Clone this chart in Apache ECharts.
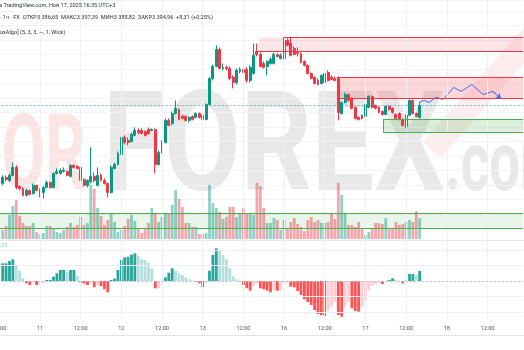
<!DOCTYPE html>
<html><head><meta charset="utf-8">
<script src="https://cdn.jsdelivr.net/npm/echarts@6/dist/echarts.min.js"></script>
<style>html,body{margin:0;padding:0;background:#fff}#c{width:524px;height:350px}</style>
</head><body><div id="c"></div>
<script>
// ---------- DATA ----------
const days = ['10','11','12','13','16','17','18'];      // day labels as shown on the time axis
const firstHour = 12;                                    // first category: day 10, 12:00
const categoryCount = 155;                               // hourly slots across the canvas

// hourly candles [open, close, low, high], first = 10th 13:00, last = 17th 16:00
const candles = [
[3341.1,3345.3,3339.8,3346.7],[3345.3,3343.9,3342.5,3346.7],[3343.2,3346.7,3341.8,3348.0],[3346.7,3352.2,3346.0,3355.6],
[3352.2,3338.4,3337.0,3353.6],[3339.1,3337.7,3336.3,3339.8],[3337.7,3332.9,3332.2,3338.4],[3332.9,3336.3,3332.2,3337.7],
[3336.3,3333.5,3332.9,3337.0],[3334.2,3339.8,3333.5,3341.1],[3339.8,3336.3,3335.6,3340.4],[3334.9,3336.3,3331.5,3337.7],
[3334.9,3338.4,3330.8,3339.1],[3338.4,3341.8,3337.7,3343.2],[3341.8,3338.4,3337.7,3342.5],[3338.4,3348.0,3337.7,3348.7],
[3348.0,3349.4,3347.3,3351.5],[3348.0,3350.1,3347.3,3351.5],[3349.4,3350.1,3348.7,3352.2],[3349.4,3346.7,3346.0,3350.1],
[3346.0,3353.6,3345.3,3354.2],[3353.6,3352.2,3351.5,3354.2],[3352.9,3351.5,3350.8,3353.6],[3352.2,3343.2,3342.5,3352.9],
[3343.9,3339.8,3339.1,3344.6],[3339.8,3343.2,3338.4,3343.9],[3342.5,3346.0,3341.1,3366.0],[3346.0,3343.2,3341.8,3348.7],
[3339.8,3346.7,3339.1,3352.2],[3346.7,3343.2,3342.5,3348.0],[3343.2,3341.1,3340.4,3344.6],[3341.1,3334.9,3331.5,3341.8],
[3334.9,3352.2,3334.2,3353.6],[3351.5,3354.2,3350.8,3355.6],[3354.2,3361.8,3353.6,3363.2],[3361.1,3372.9,3360.5,3374.3],
[3372.9,3369.4,3368.0,3374.3],[3370.8,3369.4,3367.4,3372.9],[3370.1,3374.9,3369.4,3376.3],[3374.3,3377.7,3373.6,3379.8],
[3377.7,3376.3,3374.9,3379.1],[3377.7,3375.6,3374.9,3379.1],[3377.0,3374.3,3373.6,3377.7],[3378.4,3375.6,3374.9,3379.8],
[3377.7,3378.4,3377.0,3379.1],[3378.4,3354.2,3348.0,3379.1],[3354.2,3362.5,3353.6,3363.9],[3362.5,3369.4,3361.8,3370.8],
[3369.4,3384.6,3368.7,3386.0],[3384.6,3381.2,3380.5,3386.0],[3382.5,3389.4,3381.2,3390.8],[3389.4,3392.9,3388.7,3398.4],
[3392.2,3385.3,3384.6,3392.9],[3387.4,3386.0,3385.3,3388.7],[3387.4,3384.6,3383.9,3388.1],[3384.6,3386.7,3383.2,3387.4],
[3387.4,3385.3,3384.6,3388.1],[3386.7,3389.4,3386.0,3390.1],[3389.4,3386.7,3386.0,3390.1],[3388.1,3385.3,3383.9,3388.7],
[3385.3,3395.6,3384.6,3396.3],[3395.6,3413.6,3395.0,3414.3],[3413.6,3421.9,3412.2,3423.2],[3421.9,3433.6,3421.2,3436.4],
[3433.6,3420.5,3419.8,3435.0],[3420.5,3421.2,3419.1,3423.9],[3421.2,3420.5,3419.1,3422.6],[3420.5,3413.6,3412.2,3421.9],
[3414.3,3410.8,3406.7,3415.7],[3410.8,3419.1,3409.4,3420.5],[3418.4,3419.8,3417.0,3421.2],[3419.8,3417.7,3416.3,3421.2],
[3419.8,3412.2,3410.8,3421.2],[3412.2,3421.2,3410.8,3422.6],[3417.0,3429.5,3416.3,3437.7],[3432.2,3430.1,3428.8,3437.7],
[3430.1,3421.9,3421.2,3431.5],[3423.9,3421.2,3420.5,3425.3],[3421.9,3425.3,3415.7,3426.0],[3423.9,3426.7,3423.2,3428.1],
[3423.9,3430.1,3423.2,3431.5],[3430.1,3428.8,3428.1,3430.8],[3427.4,3429.5,3426.7,3430.8],[3427.4,3439.8,3426.7,3441.9],
[3439.8,3436.4,3435.7,3441.2],[3437.7,3429.5,3428.8,3441.9],[3434.3,3430.1,3429.5,3435.7],[3431.5,3430.8,3428.8,3435.0],
[3430.8,3424.6,3423.9,3431.5],[3425.3,3422.6,3421.9,3426.0],[3422.6,3417.0,3416.3,3423.2],[3417.0,3413.6,3412.9,3417.7],
[3414.3,3410.1,3409.4,3415.0],[3412.2,3409.4,3408.8,3413.6],[3410.1,3415.7,3409.4,3416.3],[3410.8,3417.0,3410.1,3417.7],
[3417.7,3412.2,3411.5,3419.1],[3414.3,3412.9,3412.2,3415.7],[3413.6,3412.2,3411.5,3415.0],[3413.6,3390.1,3384.6,3415.0],
[3389.4,3397.0,3388.7,3397.7],[3397.0,3402.5,3396.3,3403.9],[3402.5,3398.4,3397.7,3403.2],[3399.8,3392.9,3392.2,3400.5],
[3393.6,3386.0,3385.3,3394.3],[3386.7,3385.3,3384.6,3387.4],[3388.1,3386.0,3385.3,3388.7],[3387.4,3395.6,3386.7,3396.3],
[3393.6,3401.2,3392.9,3401.9],[3401.2,3393.6,3392.9,3401.9],[3395.0,3392.9,3392.2,3395.6],[3393.6,3390.1,3389.4,3394.3],
[3390.8,3388.7,3388.1,3391.5],[3388.7,3394.3,3388.1,3395.0],[3394.3,3392.2,3391.5,3395.0],[3392.9,3390.1,3389.4,3393.6],
[3388.7,3386.0,3385.3,3389.4],[3389.4,3385.3,3384.6,3390.1],[3385.3,3381.2,3380.5,3386.0],[3380.5,3388.1,3379.1,3388.7],
[3388.1,3398.4,3387.4,3399.1],[3398.4,3389.4,3388.7,3399.1],[3389.4,3387.4,3386.7,3390.1],[3386.65,3394.96,3385.82,3397.39]
];

const volumes = [
9,13,24,33,39,23,16,13,13,16, 7,5,6,13,13,11,7,6,9,12, 16,12,14,22,14,16,54,50,31,23,
14,19,26,17,7,9,13,20,24,18, 11,6,11,16,31,26,17,22,26,26, 34,49,40,32,16,16,12,12,5,5,
6,54,36,31,27,20,22,32,32,22, 26,31,26,26,24,56,53,31,16,16, 21,19,9,19,11,17,21,15,12,8,
19,22,17,19,16,16,17,26,20,56, 44,25,14,14,12,17,10,4,7,11, 16,16,15,21,10,11,17,14,15,17,
19,17,28,21
];

const hist = [
17.7,17.7,20,21.7,15,10.3,2.7,-2.3,-4,-1.7, -4,-4,-2.3,1,1,4.3,7.7,11,11,9.3,
11,11,5,-1.7,-2.5,-4,-1.7,-6.3,-4,-5, -8.3,-11.3,1,2.3,11,21,23.7,24.3,26.3,27.7,
25,21.7,21,18.3,12.7,-7.3,-7.3,-0.5,3.7,8.3, 12.7,10.3,7.7,6,3.7,1.7,0.5,-0.7,-2.3,-6.3,
-1.7,10.3,26,32.7,30.3,26,21.7,12.7,4.3,1.7, -0.5,-4,-7.3,-9.7,-5,-2.3,-7.3,-8.3,-9.7,-11.3,
-9,-9.7,-9.7,-3,-1.7,-5.7,-6.3,-10,-14,-18.3, -21,-24,-29,-33,-34,-35,-29.7,-25.7,-20.7,-34,
-35.7,-25.7,-20.7,-27.3,-30,-30.7,-25.7,-19,-9.7,-5, -3,-2.3,-3,-1,1,2.7,1,0.3,-2.3,0.3,
7,7,6,10
];

// projected path (candle-index units, price)
const projX = [122.8,124.3,125.8,127.8,129.9,133.1,135.2,138.4,141.7,144.6,147.0];
const projY = [3397.0,3398.4,3397.0,3400.5,3399.1,3407.4,3404.6,3409.4,3402.5,3404.6,3399.8];

// zones: [startIndex, topPrice, bottomPrice]
const supplyZoneTop = [75.6, 3441.9, 3432.2];
const supplyTopLineFrom = 83.0, supplyBottomLineFrom = 75.0;
const supplyZoneLow = [98.6, 3414.1, 3399.6];
const demandZone = [112.2, 3385.1, 3376.5];
const volumeBand = [-1.5, 3320.6, 3309.9];
const lastPrice = 3394.96;
const histGridLevels = [31, 15.5, -15.5, -31];

// ---------- BUILD ----------
const categories = [];
days.forEach((d, k) => {
  for (let h = 0; h < 24; h++) {
    if (k === 0 && h < firstHour) continue;
    categories.push(d + ' ' + String(h).padStart(2, '0') + ':00');
  }
});
categories.length = categoryCount;
const labelIdx = [];
categories.forEach((c, j) => { if (c.endsWith(' 00:00') || c.endsWith(' 12:00')) labelIdx.push(j); });

const UP = '#089981', DN = '#f23645';
const candleData = candles.map((c, i) => [i + 1, c[0], c[1], c[2], c[3]]);
const volData = volumes.map((v, i) => ({ value: [i + 1, v],
  itemStyle: { color: candles[i][1] >= candles[i][0] ? 'rgba(8,153,129,0.45)' : 'rgba(242,54,69,0.45)' } }));
const histData = hist.map((h, i) => {
  const p = i > 0 ? hist[i - 1] : h;
  let col;
  if (h >= 0) col = h >= p ? '#26a69a' : '#b2dfdb';
  else col = h < p ? '#ff5252' : '#ffcdd2';
  return { value: [i + 1, h], itemStyle: { color: col } };
});
const projData = projX.map((x, k) => [x, projY[k]]);

const END = 153.5, START = -1.5;
const GL = -2.39, GW = 525.45;

function seg(x0, x1, y, color) {
  return [{ xAxis: x0, yAxis: y, lineStyle: { color: color, width: 1, type: 'solid' } }, { xAxis: x1, yAxis: y }];
}
function vseg(x, y0, y1, color) {
  return [{ xAxis: x, yAxis: y0, lineStyle: { color: color, width: 1, type: 'solid' } }, { xAxis: x, yAxis: y1 }];
}
const RED = '#f23645', GRN = '#4caf50';

const vGridMain = labelIdx.map(j => ({ xAxis: j - 1, lineStyle: { color: '#eef0f3', width: 1, type: 'solid' } }));
const vGridOsc = labelIdx.map(j => ({ xAxis: j, lineStyle: { color: '#eef0f3', width: 1, type: 'solid' } }));

const gridBase = { left: GL, width: GW, containLabel: false, outerBoundsMode: 'none' };

const option = {
  animation: false,
  backgroundColor: '#ffffff',
  textStyle: { fontFamily: 'Roboto' },
  grid: [
    Object.assign({}, gridBase, { top: 0, height: 243.04 }),
    Object.assign({}, gridBase, { top: 179, height: 60 }),
    Object.assign({}, gridBase, { top: 242, height: 78 })
  ],
  xAxis: [
    { type: 'category', gridIndex: 0, data: categories, boundaryGap: true, show: false },
    { type: 'value', gridIndex: 0, min: START, max: END, show: false },
    { type: 'category', gridIndex: 1, data: categories, boundaryGap: true, show: false },
    { type: 'category', gridIndex: 2, data: categories, boundaryGap: true,
      axisLine: { show: false }, axisTick: { show: false }, splitLine: { show: false },
      axisLabel: { show: true, hideOverlap: false, interval: (i, v) => v.endsWith(' 00:00') || v.endsWith(' 12:00'),
        formatter: v => v.endsWith(' 00:00') ? v.split(' ')[0] : '12:00',
        fontSize: 5.6, color: '#50535e', margin: 6, fontFamily: 'Roboto' } }
  ],
  yAxis: [
    { type: 'value', gridIndex: 0, min: 3300, max: 3467.7, interval: 10, scale: true,
      axisLine: { show: false }, axisTick: { show: false }, axisLabel: { show: false },
      splitLine: { show: true, showMinLine: false, lineStyle: { color: '#f2f3f6', width: 1 } } },
    { type: 'value', gridIndex: 1, min: 0, max: 60, show: false, splitLine: { show: false } },
    { type: 'value', gridIndex: 2, min: -39, max: 39, show: false, splitLine: { show: false } }
  ],
  graphic: [
    // watermark
    { type: 'text', x: 86, y: 162, scaleX: 0.6, z: -10, silent: true,
      style: { text: 'FOR', font: 'bold 106px Roboto', fill: '#fce4e4', align: 'right', verticalAlign: 'middle' } },
    { type: 'text', x: 103, y: 155, scaleX: 0.794, z: -10, silent: true,
      style: { text: 'FOREX', font: 'bold 140px Roboto', fill: '#e8e8e8', align: 'left', verticalAlign: 'middle' } },
    { type: 'text', x: 445, y: 169, scaleX: 0.65, z: -10, silent: true,
      style: { text: '.com', font: 'bold 84px Roboto', fill: '#e8e8e8', align: 'left', verticalAlign: 'middle' } },
    { type: 'polyline', z: -9, silent: true, shape: { points: [[432, 150], [532, 36]] },
      style: { stroke: 'rgba(242,54,69,0.09)', lineWidth: 24, fill: null } },
    // pane separators
    { type: 'line', z: 5, silent: true, shape: { x1: 0, y1: 240.5, x2: 524, y2: 240.5 }, style: { stroke: '#e6e8ec', lineWidth: 1 } },
    { type: 'line', z: 5, silent: true, shape: { x1: 0, y1: 335.5, x2: 524, y2: 335.5 }, style: { stroke: '#e0e3eb', lineWidth: 1 } },
    // header
    { type: 'text', x: -1, y: 5.7, z: 50, style: { text: 'а TradingView.com, Ноя 17, 2025 16:35 UTC+3', font: '5.6px Roboto', fill: '#2a2e39', verticalAlign: 'middle' } },
    { type: 'text', x: 0, y: 17.3, z: 50, style: { text: '· 1ч · FX  ОТКР3 386,65  МАКС3 397,39  МИН3 385,82  ЗАКР3 394,96  +8,31 (+0,25%)', font: '5.6px Roboto', fill: '#2a2e39', verticalAlign: 'middle' } },
    { type: 'text', x: 0, y: 32.3, z: 50, style: { text: 'uxAlgo] (5, 3, 3, —, 1, Wick)', font: '5.6px Roboto', fill: '#2a2e39', verticalAlign: 'middle' } },
    { type: 'text', x: 0, y: 246, z: 50, style: { text: ',33', font: '5.6px Roboto', fill: '#7fcdc3', verticalAlign: 'middle' } }
  ],
  series: [
    { type: 'line', name: 'zones', xAxisIndex: 1, yAxisIndex: 0, data: [], z: 1, silent: true,
      markArea: { silent: true, data: [
        [{ xAxis: supplyZoneTop[0], yAxis: supplyZoneTop[1], itemStyle: { color: 'rgba(242,54,69,0.13)' } }, { xAxis: END, yAxis: supplyZoneTop[2] }],
        [{ xAxis: supplyZoneLow[0], yAxis: supplyZoneLow[1], itemStyle: { color: 'rgba(242,54,69,0.2)' } }, { xAxis: END, yAxis: supplyZoneLow[2] }],
        [{ xAxis: demandZone[0], yAxis: demandZone[1], itemStyle: { color: 'rgba(76,175,80,0.2)' } }, { xAxis: END, yAxis: demandZone[2] }],
        [{ xAxis: volumeBand[0], yAxis: volumeBand[1], itemStyle: { color: 'rgba(76,175,80,0.13)' } }, { xAxis: END, yAxis: volumeBand[2] }]
      ] },
      markLine: { silent: true, symbol: ['none', 'none'], label: { show: false }, data: [
        ...vGridMain,
        seg(supplyTopLineFrom, END, supplyZoneTop[1], RED),
        seg(supplyBottomLineFrom, END, supplyZoneTop[2], RED),
        seg(supplyZoneLow[0], END, supplyZoneLow[1], RED),
        seg(supplyZoneLow[0], END, supplyZoneLow[2], RED),
        vseg(supplyZoneLow[0], supplyZoneLow[1], supplyZoneLow[2], RED),
        seg(demandZone[0], END, demandZone[1], GRN),
        seg(demandZone[0], END, demandZone[2], GRN),
        vseg(demandZone[0], demandZone[1], demandZone[2], GRN),
        seg(volumeBand[0], END, volumeBand[1], GRN),
        seg(volumeBand[0], END, volumeBand[2], GRN),
        [{ xAxis: START, yAxis: lastPrice, lineStyle: { color: 'rgba(8,153,129,0.55)', width: 1, type: [2, 2] } }, { xAxis: END, yAxis: lastPrice }]
      ] } },
    { type: 'bar', name: 'volume', xAxisIndex: 2, yAxisIndex: 1, data: volData, barWidth: 2.8, z: 1, silent: true },
    { type: 'candlestick', name: 'price', xAxisIndex: 0, yAxisIndex: 0, data: candleData,
      encode: { x: 0, y: [1, 2, 3, 4] }, barWidth: 2.4, z: 3, silent: true,
      itemStyle: { color: UP, color0: DN, borderColor: UP, borderColor0: DN, borderWidth: 1 } },
    { type: 'line', name: 'projection', xAxisIndex: 1, yAxisIndex: 0, data: projData, z: 4, silent: true,
      symbol: 'none', lineStyle: { color: '#3f6ff5', width: 1 },
      markLine: { silent: true, symbol: ['none', 'arrow'], symbolSize: 5, label: { show: false },
        lineStyle: { color: '#3f6ff5', width: 1, type: 'solid' },
        data: [[{ coord: projData[projData.length - 2] }, { coord: projData[projData.length - 1] }]] } },
    { type: 'bar', name: 'histogram', xAxisIndex: 3, yAxisIndex: 2, data: histData, barWidth: 2.8, z: 2, silent: true,
      markLine: { silent: true, symbol: ['none', 'none'], label: { show: false }, data: [
        ...vGridOsc,
        ...histGridLevels.map(v => ({ yAxis: v, lineStyle: { color: '#eef0f3', width: 1, type: 'solid' } })),
        { yAxis: 0, lineStyle: { color: '#b8bcc6', width: 1, type: [2, 2] } }
      ] } }
  ]
};
const chart = echarts.init(document.getElementById('c'));
chart.setOption(option);
</script>
</body></html>
